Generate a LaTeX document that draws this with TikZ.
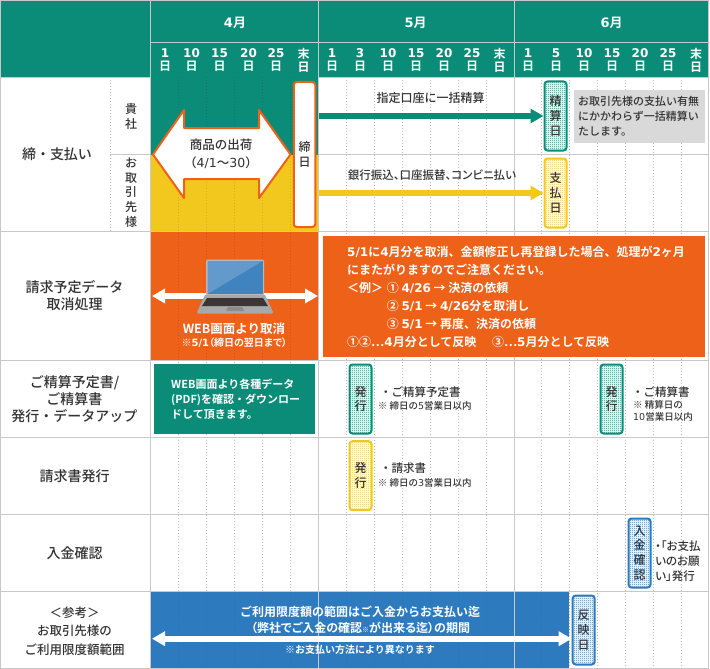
\documentclass[tikz,border=0pt]{standalone}
\usepackage{fontspec}
\setmainfont{Noto Sans CJK JP Medium}[BoldFont={Noto Sans CJK JP Bold}]
\newfontfamily\dg{DejaVu Sans}
\usetikzlibrary{patterns}
\usetikzlibrary{arrows.meta}
\definecolor{tealc}{HTML}{0A8C78}
\definecolor{yellowc}{HTML}{F2C81E}
\definecolor{orangec}{HTML}{ED6119}
\definecolor{bluec}{HTML}{2D7ABF}
\definecolor{gridc}{HTML}{C8C8C8}
\definecolor{textc}{HTML}{333333}
\definecolor{notec}{HTML}{D9D9D9}
\definecolor{screenc}{HTML}{3F84BE}
\definecolor{glarec}{HTML}{6499CC}
\definecolor{bodyc}{HTML}{A6A8AA}
\definecolor{keysc}{HTML}{3D3535}
\pgfdeclarepatternformonly{dither}{\pgfqpoint{0pt}{0pt}}{\pgfqpoint{2pt}{2pt}}{\pgfqpoint{2pt}{2pt}}{%
\pgfpathrectangle{\pgfqpoint{0pt}{0pt}}{\pgfqpoint{1pt}{1pt}}%
\pgfpathrectangle{\pgfqpoint{1pt}{1pt}}{\pgfqpoint{1pt}{1pt}}%
\pgfusepath{fill}}
\newcommand{\fs}[2]{\fontsize{#1}{#2}\selectfont}
\newcommand{\palt}{\addfontfeatures{RawFeature=+palt}}
\newcommand{\dgt}[1]{{\dg #1}}
\tikzset{
  rowlabel/.style={inner sep=0, align=center, text=textc, font=\fs{14}{17}},
  sublabel/.style={inner sep=0, align=center, text=textc, font=\fs{12}{14.6}},
  daylabel/.style={inner sep=0, align=center, text=white, font=\fs{12}{13}\bfseries},
  monthlabel/.style={inner sep=0, text=white, font=\fs{13}{15}\bfseries},
  plaintext/.style={inner sep=0, anchor=west, align=left, text=textc, font=\fs{11.5}{15}},
  smalltext/.style={inner sep=0, anchor=west, align=left, text=textc, font=\fs{9.5}{11.7}},
  whitetext/.style={inner sep=0, align=center, text=white, font=\fs{12}{15}\bfseries},
  datebox/.style={draw=#1, line width=2pt, rounded corners=3pt, preaction={fill=white},
    pattern=dither, pattern color=#1, minimum width=22pt, minimum height=69pt,
    inner sep=0, align=center, text=textc, font=\fs{12}{14.8}},
  bararrow/.style={line width=6pt, -{Triangle[length=13pt,width=14pt]}},
  bothbar/.style={line width=6pt, white, {Triangle[length=13pt,width=14pt]}-{Triangle[length=13pt,width=14pt]}},
  dayline/.style={line width=1pt, dash pattern=on 1pt off 2pt},
}
\begin{document}
\begin{tikzpicture}[x=1pt,y=-1pt]
\useasboundingbox (0,0) rectangle (710,669);
\foreach \x in {178,206,234,262,290,346,374,402,430,458,486,541.5,569.5,597.5,625.5,653.5,681.5}
  \draw[dayline, black!28] (\x,77) -- (\x,668);
\draw[dayline, black!28] (110,77) -- (110,231);
\fill[tealc] (0.5,0.5) rectangle (708.5,77);
\fill[tealc] (150.5,77) rectangle (318.5,154.5);
\fill[yellowc] (150.5,154.5) rectangle (318.5,231);
\fill[orangec] (150.5,231) rectangle (318.5,360);
\fill[bluec] (150.5,591) rectangle (569,668);
\foreach \x in {178,206,234,262,290}
  \draw[dayline, black, opacity=0.12] (\x,77) -- (\x,360);
\foreach \x in {178,206,234,262,290,346,374,402,430,458,486,541.5}
  \draw[dayline, black, opacity=0.08] (\x,591) -- (\x,668);
\draw[gridc] (0.5,0.5) rectangle (708.5,668);
\foreach \y in {231,360,437.5,514.5,591}
  \draw[gridc] (0.5,\y) -- (708.5,\y);
\draw[gridc] (0.5,77) -- (150.5,77) (318.5,77) -- (708.5,77);
\draw[gridc] (150.5,42) -- (708.5,42);
\draw[gridc] (110,154.5) -- (150.5,154.5) (318.5,154.5) -- (708.5,154.5);
\foreach \x in {150.5,318.5,514}
  \draw[gridc] (\x,0.5) -- (\x,668);

\node[monthlabel] (apr) at (235,23) {\dgt{4}月};
\node[monthlabel] (may) at (415.7,23) {\dgt{5}月};
\node[monthlabel] (jun) at (611.7,23) {\dgt{6}月};
\foreach \x/\d [count=\i] in {165/\dgt{1},191.5/\dgt{10},219.5/\dgt{15},248.5/\dgt{20},276/\dgt{25},303.5/末,332/\dgt{1},360/\dgt{3},388/\dgt{10},416/\dgt{15},444/\dgt{20},472/\dgt{25},499.5/末,528/\dgt{1},556/\dgt{5},584/\dgt{10},612/\dgt{15},640/\dgt{20},668/\dgt{25},696/末}
  \node[daylabel] (day\i) at (\x,60) {\d\\日};

\node[rowlabel] (pay) at (57,154) {締・支払い};
\node[sublabel] (kisha) at (131,116.5) {貴\\社};
\node[sublabel] (client) at (131,192.5) {お\\取\\引\\先\\様};
\node[rowlabel] (cancel) at (74.5,296) {請求予定データ\\取消処理};
\node[rowlabel] (plan) at (74.5,399.5) {ご精算予定書/\\ご精算書\\発行・データアップ};
\node[rowlabel] (invoice) at (74.5,476) {請求書発行};
\node[rowlabel] (receipt) at (74.5,552.7) {入金確認};
\node[rowlabel, font=\fs{12.5}{18.5}] (limit) at (74.5,631) {＜参考＞\\お取引先様の\\ご利用限度額範囲};

\draw[orangec, line width=2pt, line join=round, fill=white] (153,154.5) -- (184,110) -- (184,128) -- (259,128) -- (259,110) -- (290.5,154.5) -- (259,198) -- (259,179) -- (184,179) -- (184,198) -- cycle;
\node[sublabel, font=\fs{12.5}{18}] (ship) at (221,154) {商品の出荷\\（\dgt{4/1}～\dgt{30}）};
\node[datebox=orangec, pattern=none, fill=white, minimum width=21.5pt, minimum height=145pt, font=\fs{12}{15}] (closing) at (304.5,154.5) {締\\日};

\node[datebox=tealc] (seisan) at (555.5,116) {精\\算\\日};
\node[datebox=yellowc] (shiharai) at (555.5,193) {支\\払\\日};
\coordinate (paystart) at (318.5,116);
\coordinate (banstart) at (318.5,193);
\draw[bararrow, tealc] (paystart) -- (seisan.west);
\draw[bararrow, yellowc] (banstart) -- (shiharai.west);
\node[sublabel, font=\fs{12}{14}] (bulk) at (430.5,98) {指定口座に一括精算};
\node[sublabel, font=\fs{11.5}{14}\palt] (bank) at (432,175) {銀行振込、口座振替、コンビニ払い};
\node[fill=notec, inner sep=0, minimum width=131.7pt, minimum height=53pt, anchor=north west] (note) at (573.3,90) {};
\node[plaintext, font=\fs{11}{15}] (notetext) at (578,116.5) {お取引先様の支払い有無\\にかかわらず一括精算い\\たします。};

\coordinate (webL) at (152,296);
\coordinate (webR) at (318,296);
\draw[bothbar] (webL) -- (webR);
\fill[bodyc!80!white, rounded corners=2pt] (206,296) -- (206,259.5) -- (264,259.5) -- (264,296) -- cycle;
\fill[screenc] (207.5,261) rectangle (262.5,294);
\fill[glarec] (207.5,261) -- (262.5,261) -- (207.5,294) -- cycle;
\fill[bodyc] (205,295) -- (265,295) -- (273,312) -- (272,313.5) -- (198,313.5) -- (197,312) -- cycle;
\fill[keysc] (207,298) -- (263,298) -- (268,306) -- (202,306) -- cycle;
\fill[black!45] (228,307) -- (242,307) -- (244,311) -- (226,311) -- cycle;
\node[whitetext, font=\fs{12.5}{15}\bfseries] (web) at (234,328.7) {WEB画面より取消};
\node[whitetext, font=\fs{10}{12}\bfseries\palt] (webnote) at (234.3,343) {※\dgt{5/1}（締日の翌日まで）};

\node[fill=tealc, inner sep=0, minimum width=161pt, minimum height=69.7pt, anchor=north west] (pdfbox) at (154,364) {};
\node[inner sep=0, anchor=west, align=left, text=white, font=\fs{11}{15}\bfseries] (pdf) at (171,399) {WEB画面より各種データ\\(PDF)を確認・ダウンロー\\ドして頂きます。};
\node[fill=orangec, inner sep=0, minimum width=382.7pt, minimum height=121pt, anchor=north west] (warnbox) at (322.3,236) {};
\node[inner sep=0, anchor=west, align=left, text=white, font=\fs{12}{18}\bfseries] (warn) at (347,297) {\dgt{5/1}に\dgt{4}月分を取消、金額修正し再登録した場合、処理が\dgt{2}ヶ月\\にまたがりますのでご注意ください。\\＜例＞\hspace{.3em}① \dgt{4/26} → 決済の依頼\\\hphantom{＜例＞}\hspace{.3em}② \dgt{5/1} → \dgt{4/26}分を取消し\\\hphantom{＜例＞}\hspace{.3em}③ \dgt{5/1} → 再度、決済の依頼\\①②⋯\dgt{4}月分として反映\hspace{1.3em}③⋯\dgt{5}月分として反映};

\node[datebox=tealc] (issue1) at (360.5,399) {発\\行};
\node[datebox=tealc] (issue2) at (611.5,399) {発\\行};
\node[datebox=yellowc] (issue3) at (360.5,475.7) {発\\行};
\node[datebox=bluec, font=\fs{12}{14.7}] (confirm) at (639.5,553) {入\\金\\確\\認};
\node[datebox=bluec] (hanei) at (583.7,630) {反\\映\\日};

\node[plaintext, font=\fs{11.5}{15}] (doc1) at (380,392) {・ご精算予定書};
\node[smalltext] (doc1n) at (377.7,406) {※ 締日の\dgt{5}営業日以内};
\node[plaintext, font=\fs{11.5}{15}] (doc2) at (632,392) {・ご精算書};
\node[smalltext, anchor=north west] (doc2n) at (633,400.5) {※ 精算日の\\\dgt{10}営業日以内};
\node[plaintext, font=\fs{11.5}{15}] (doc3) at (380,468.3) {・請求書};
\node[smalltext] (doc3n) at (377.7,482.7) {※ 締日の\dgt{3}営業日以内};
\node[plaintext, font=\fs{11.5}{15}\palt] (dun) at (655,561) {・「お支払\\いのお願\\い」発行};

\node[whitetext] (limit1) at (360,611.7) {ご利用限度額の範囲はご入金からお支払い迄};
\node[whitetext, font=\fs{12}{15}\bfseries\palt] (limit2) at (360.5,627.7) {（弊社でご入金の確認{\fs{7}{7}※}が出来る迄）の期間};
\coordinate (limitL) at (152,638.7);
\draw[bothbar] (limitL) -- (hanei.west |- limitL);
\node[whitetext, font=\fs{10}{12}\bfseries] (limit3) at (360,650) {※お支払い方法により異なります};
\end{tikzpicture}
\end{document}
